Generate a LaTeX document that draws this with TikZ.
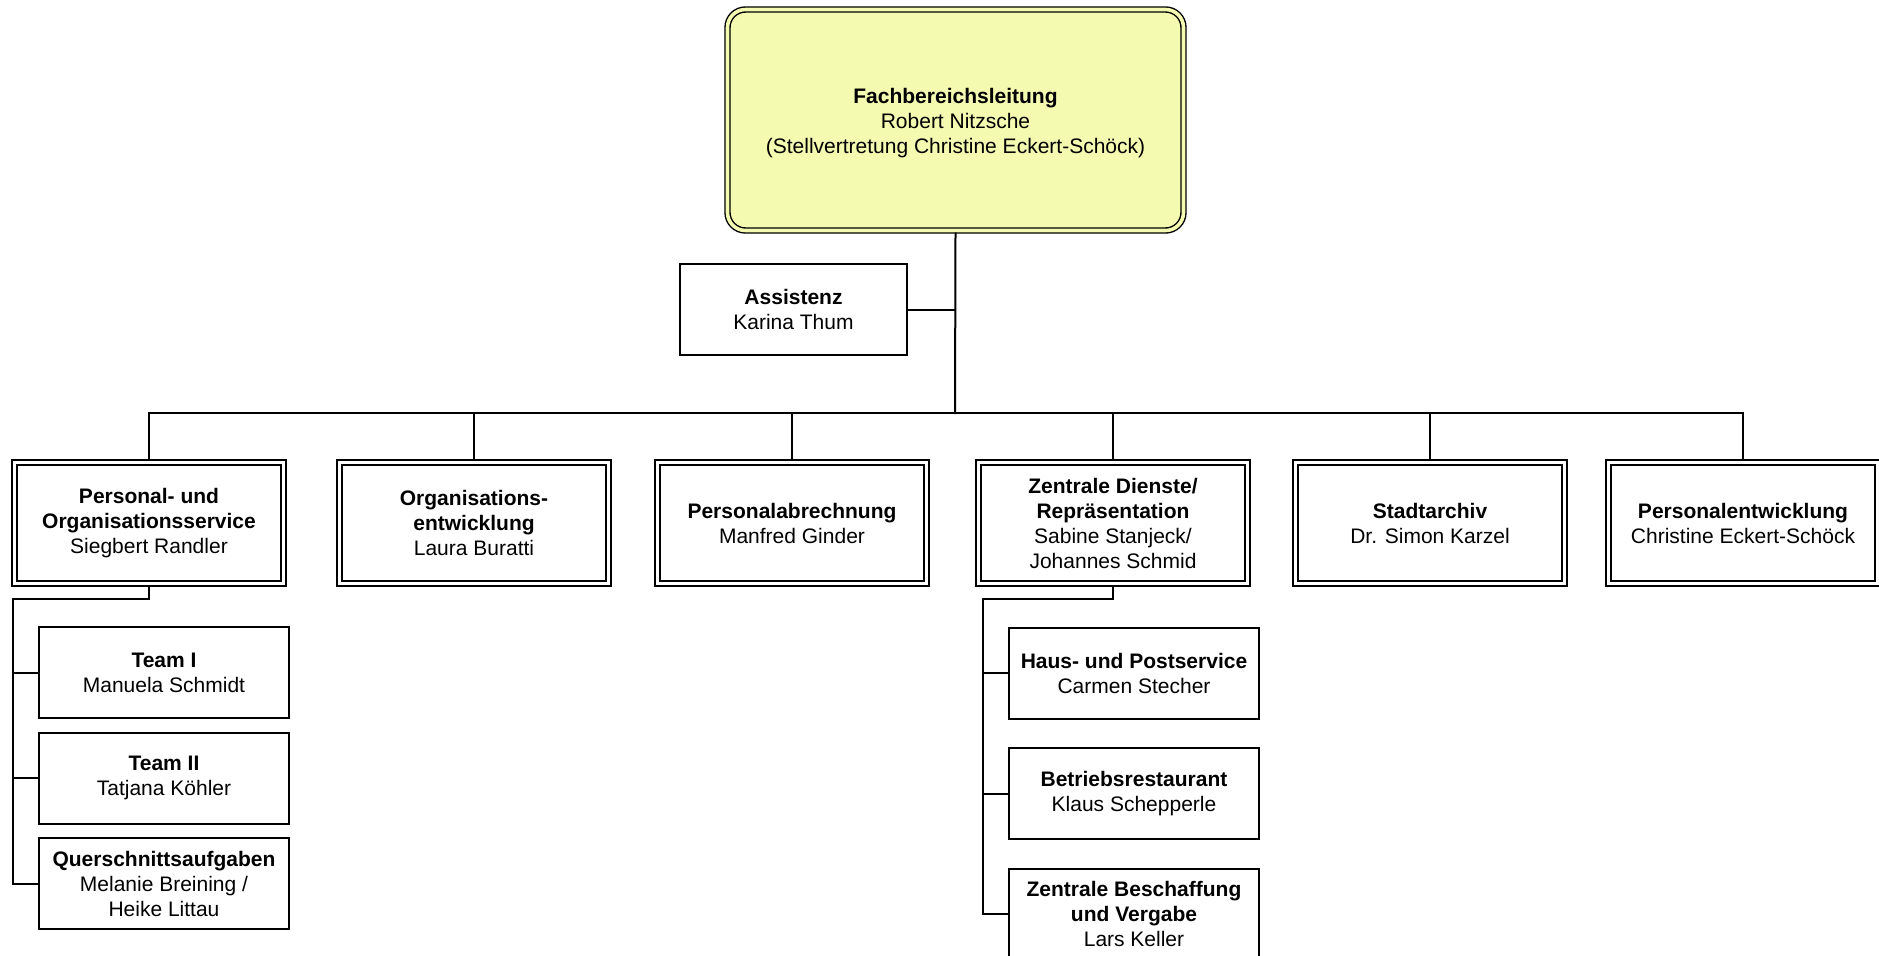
\documentclass[tikz,border=0pt]{standalone}
\usepackage{fontspec}
\setmainfont{Liberation Sans}
\definecolor{leadfill}{RGB}{244,250,176}
\begin{document}
\begin{tikzpicture}[x=0.5pt,y=-0.5pt,
  txt/.style={align=center,font=\fontsize{10.5}{12.5}\selectfont,inner sep=0pt},
  single/.style={txt,draw=black,line width=1pt,fill=white,minimum width=125pt,minimum height=45.5pt,outer sep=0pt},
  dbl/.style={txt,draw=black,line width=0.7pt,double=white,double distance=1.8pt,minimum width=134.5pt,minimum height=60.5pt,outer sep=1.6pt},
  lead/.style={txt,draw=black,line width=0.7pt,double=leadfill,double distance=1.8pt,fill=leadfill,rounded corners=9pt,minimum width=228pt,minimum height=110.5pt,outer sep=1.6pt},
  conn/.style={line width=1pt,line cap=rect}]
\clip (0,0) rectangle (1879,955);
\fill[white] (0,0) rectangle (1879,955);

\node[lead] (top) at (955.5,120) {\rule{0pt}{10.8pt}\textbf{Fachbereichsleitung}\\Robert Nitzsche\\(Stellvertretung Christine Eckert-Schöck)};
\node[single,minimum width=113.5pt] (ass) at (793.5,309.5) {\textbf{Assistenz}\\Karina Thum};

\node[dbl] (b1) at (149,523) {\textbf{Personal- und}\\\textbf{Organisationsservice}\\Siegbert Randler};
\node[dbl] (b2) at (474,523) {\textbf{Organisations-}\\\textbf{entwicklung}\\Laura Buratti};
\node[dbl] (b3) at (792,523) {\textbf{Personalabrechnung}\\Manfred Ginder};
\node[dbl] (b4) at (1113,523) {\textbf{Zentrale Dienste/}\\\textbf{Repräsentation}\\Sabine Stanjeck/\\Johannes Schmid};
\node[dbl] (b5) at (1430,523) {\textbf{Stadtarchiv}\\Dr. Simon Karzel};
\node[dbl] (b6) at (1743,523) {\textbf{Personalentwicklung}\\Christine Eckert-Schöck};

\node[single] (t1) at (164,672.5) {\textbf{Team I}\\Manuela Schmidt};
\node[single] (t2) at (164,778) {\textbf{Team II}\\Tatjana Köhler};
\node[single] (t3) at (164,883.5) {\textbf{Querschnittsaufgaben}\\Melanie Breining /\\Heike Littau};

\node[single] (z1) at (1134,673) {\textbf{Haus- und Postservice}\\Carmen Stecher};
\node[single] (z2) at (1134,793.5) {\textbf{Betriebsrestaurant}\\Klaus Schepperle};
\node[single] (z3) at (1134,914) {\textbf{Zentrale Beschaffung}\\\textbf{und Vergabe}\\Lars Keller};

\coordinate (bar) at (955,413);
\coordinate (pl) at (13,599);
\coordinate (zl) at (983,599);

\draw[conn] (top.south) -- (bar);
\draw[conn] (ass.east) -- (ass.east -| bar);
\draw[conn] (b1.north) |- (bar) -| (b6.north);
\draw[conn] (b2.north) -- (b2.north |- bar);
\draw[conn] (b3.north) -- (b3.north |- bar);
\draw[conn] (b4.north) -- (b4.north |- bar);
\draw[conn] (b5.north) -- (b5.north |- bar);

\draw[conn] (b1.south) |- (pl) |- (t3.west);
\draw[conn] (pl |- t1.west) -- (t1.west);
\draw[conn] (pl |- t2.west) -- (t2.west);

\draw[conn] (b4.south) |- (zl) |- (z3.west);
\draw[conn] (zl |- z1.west) -- (z1.west);
\draw[conn] (zl |- z2.west) -- (z2.west);
\end{tikzpicture}
\end{document}
